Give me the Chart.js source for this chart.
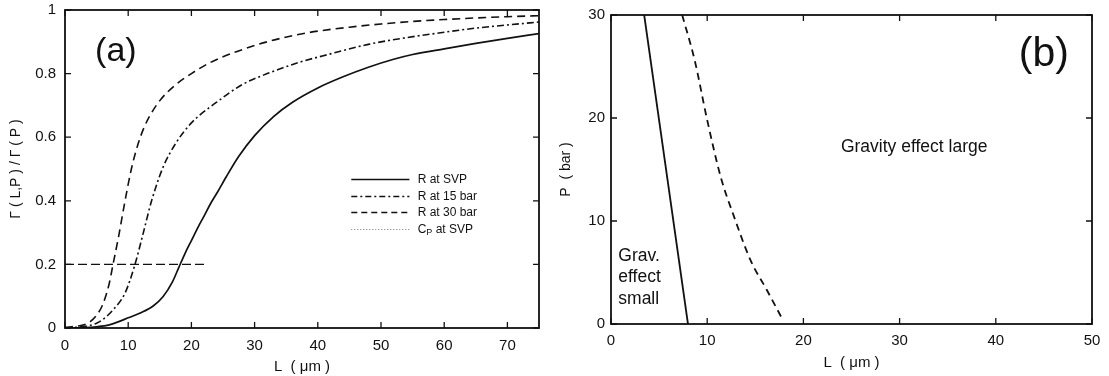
<!DOCTYPE html>
<html>
<head>
<meta charset="utf-8">
<script src="https://cdn.jsdelivr.net/npm/chart.js@4"></script>
<style>
  body { margin: 0; background: #fff; }
  #wrap { position: relative; width: 1109px; height: 376px; }
  .box { position: absolute; top: 0; height: 376px; }
  #boxA { left: 0; width: 550px; }
  #boxB { left: 550px; width: 559px; }
</style>
</head>
<body>
<div id="wrap">
  <div class="box" id="boxA"><canvas id="chartA"></canvas></div>
  <div class="box" id="boxB"><canvas id="chartB"></canvas></div>
</div>
<script>
// panel (a): Gamma(L,P)/Gamma(P) vs L
const lSvp = [0, 3, 5, 7, 8.5, 10, 12, 14, 15.5, 17, 18, 19, 20, 21, 22, 23, 24, 25.5, 27.5, 30, 33, 36, 40, 44, 48, 52, 55, 60, 65, 70, 75];
const rSvp = [0, 0.001, 0.004, 0.01, 0.02, 0.032, 0.048, 0.07, 0.098, 0.145, 0.19, 0.235, 0.275, 0.315, 0.352, 0.39, 0.423, 0.475, 0.54, 0.605, 0.665, 0.71, 0.755, 0.79, 0.82, 0.845, 0.86, 0.878, 0.895, 0.911, 0.926];

const l15 = [0, 3, 5, 6.5, 7.6, 9.5, 11, 12.4, 13.7, 15.5, 17.5, 20, 24, 28, 32, 37, 42, 48, 54, 60, 65, 70, 75];
const r15 = [0, 0.005, 0.015, 0.035, 0.057, 0.11, 0.195, 0.3, 0.4, 0.505, 0.58, 0.645, 0.71, 0.765, 0.8, 0.835, 0.862, 0.892, 0.913, 0.93, 0.943, 0.953, 0.962];

const l30 = [0, 2, 3, 4, 5, 6, 7, 7.6, 8.5, 9.5, 10.5, 11.5, 12.5, 13.5, 15, 17.5, 20, 23, 27, 32, 38, 45, 50, 55, 60, 65, 70, 75];
const r30 = [0.002, 0.006, 0.01, 0.02, 0.04, 0.075, 0.14, 0.2, 0.29, 0.4, 0.5, 0.575, 0.63, 0.67, 0.715, 0.765, 0.8, 0.835, 0.868, 0.9, 0.927, 0.946, 0.956, 0.964, 0.97, 0.975, 0.979, 0.982];

const lRef = [0, 22.5];
const rRef = [0.2, 0.2];

const ticksAx = [0, 10, 20, 30, 40, 50, 60, 70];
const ticksAy = [0, 0.2, 0.4, 0.6, 0.8, 1];

// panel (b): P vs L boundaries
const lSmall = [3.45, 8.0];
const pSmall = [30, 0];
const lLarge = [7.4, 8.7, 10, 11.4, 12.8, 14.5, 16.2, 17.8];
const pLarge = [30, 25.6, 19.8, 14.3, 10.4, 6.2, 3.3, 0.5];

const ticksBx = [0, 10, 20, 30, 40, 50];
const ticksBy = [0, 10, 20, 30];

const FONT = "'Liberation Sans', Arial, sans-serif";
const INK = "#111";

const pts = (xs, ys) => xs.map((x, i) => ({ x, y: ys[i] }));
const setTicks = (vals) => (scale) => { scale.ticks = vals.map((v) => ({ value: v })); };
// no extra room for labels hanging over the ends; layout padding decides
const noOverhang = (s) => { s.paddingTop = 0; s.paddingBottom = 0; s.paddingLeft = 0; s.paddingRight = 0; };

// box round the plot area, with inward ticks on all four sides
const framePlugin = {
  id: "frame",
  afterDatasetsDraw(chart) {
    const { ctx, chartArea: a, scales } = chart;
    const len = 6;
    ctx.save();
    ctx.strokeStyle = INK;
    ctx.lineWidth = 1.3;
    ctx.beginPath();
    scales.x.ticks.forEach((t) => {
      const px = scales.x.getPixelForValue(t.value);
      ctx.moveTo(px, a.bottom); ctx.lineTo(px, a.bottom - len);
      ctx.moveTo(px, a.top); ctx.lineTo(px, a.top + len);
    });
    scales.y.ticks.forEach((t) => {
      const py = scales.y.getPixelForValue(t.value);
      ctx.moveTo(a.left, py); ctx.lineTo(a.left + len, py);
      ctx.moveTo(a.right, py); ctx.lineTo(a.right - len, py);
    });
    ctx.stroke();
    ctx.lineWidth = 1.8;
    ctx.strokeRect(a.left, a.top, a.right - a.left, a.bottom - a.top);
    ctx.restore();
  },
};

// free text and the hand-made legend, placed in data units
const notesPlugin = {
  id: "notes",
  afterDraw(chart, args, opts) {
    const { ctx, scales } = chart;
    const sx = (v) => scales.x.getPixelForValue(v);
    const sy = (v) => scales.y.getPixelForValue(v);
    ctx.save();
    ctx.fillStyle = INK;
    ctx.textBaseline = "middle";
    (opts.texts || []).forEach((t) => {
      ctx.font = `${t.size}px ${FONT}`;
      ctx.textAlign = t.align || "left";
      ctx.fillText(t.text, sx(t.x), sy(t.y));
    });
    (opts.legend || []).forEach((l) => {
      const y = Math.round(sy(l.y)) + 0.5;
      ctx.strokeStyle = l.color || INK;
      ctx.lineWidth = l.width;
      ctx.setLineDash(l.dash);
      ctx.beginPath();
      ctx.moveTo(sx(l.x0), y);
      ctx.lineTo(sx(l.x1), y);
      ctx.stroke();
      ctx.setLineDash([]);
      ctx.font = `12px ${FONT}`;
      ctx.textAlign = "left";
      let x = sx(l.tx);
      if (l.sub) {
        ctx.fillText(l.main, x, y);
        x += ctx.measureText(l.main).width;
        ctx.font = `9px ${FONT}`;
        ctx.fillText(l.sub, x, y + 3);
        x += ctx.measureText(l.sub).width;
        ctx.font = `12px ${FONT}`;
        ctx.fillText(l.rest, x, y);
      } else {
        ctx.fillText(l.main, x, y);
      }
    });
    ctx.restore();
  },
};

const lineSet = (data, dash, width) => ({
  data,
  borderColor: INK,
  borderWidth: width,
  borderDash: dash,
  pointRadius: 0,
  fill: false,
  cubicInterpolationMode: "monotone",
});

const axisX = (min, max, vals, title, pad, h) => ({
  type: "linear",
  min, max,
  afterBuildTicks: setTicks(vals),
  afterFit: (s) => { s.height = h; noOverhang(s); },
  grid: { display: false, drawTicks: false },
  border: { display: false },
  ticks: { color: INK, font: { family: FONT, size: 15 }, padding: pad, maxRotation: 0 },
  title: { display: true, text: title, color: INK, font: { family: FONT, size: 15 }, padding: 0 },
});

const axisY = (min, max, vals, title, pad, w, fmt) => ({
  type: "linear",
  min, max,
  afterBuildTicks: setTicks(vals),
  afterFit: (s) => { s.width = w; noOverhang(s); },
  grid: { display: false, drawTicks: false },
  border: { display: false },
  ticks: { color: INK, font: { family: FONT, size: 15 }, padding: pad, callback: fmt },
  title: { display: true, text: title, color: INK, font: { family: FONT, size: 14 }, padding: 0 },
});

new Chart(document.getElementById("chartA"), {
  type: "line",
  data: {
    datasets: [
      lineSet(pts(lSvp, rSvp), [], 1.7),
      lineSet(pts(l15, r15), [7, 3, 2, 3], 1.6),
      lineSet(pts(l30, r30), [8, 5], 1.6),
      lineSet(pts(lRef, rRef), [9, 4], 1.4),
    ],
  },
  options: {
    responsive: true,
    maintainAspectRatio: false,
    animation: false,
    layout: { padding: { left: 8, top: 10, right: 11, bottom: 0 } },
    scales: {
      x: axisX(0, 75, ticksAx, "L  ( \u03bcm )", 9, 48),
      y: axisY(0, 1, ticksAy, "\u0393 ( L,P ) / \u0393 ( P )", 9, 57,
        (v) => (v === 0 || v === 1 ? String(v) : v.toFixed(1))),
    },
    plugins: {
      legend: { display: false },
      tooltip: { enabled: false },
      notes: {
        texts: [{ text: "(a)", x: 8.05, y: 0.868, size: 34, align: "center" }],
        legend: [
          { y: 0.468, x0: 45.3, x1: 54.5, tx: 55.8, dash: [], width: 1.7, main: "R at SVP" },
          { y: 0.416, x0: 45.3, x1: 54.5, tx: 55.8, dash: [6, 3, 2, 3], width: 1.6, main: "R at 15 bar" },
          { y: 0.366, x0: 45.3, x1: 54.5, tx: 55.8, dash: [6, 4], width: 1.6, main: "R at 30 bar" },
          { y: 0.311, x0: 45.3, x1: 54.5, tx: 55.8, dash: [1, 2], width: 1, color: "#777", main: "C", sub: "P", rest: " at SVP" },
        ],
      },
    },
  },
  plugins: [framePlugin, notesPlugin],
});

new Chart(document.getElementById("chartB"), {
  type: "line",
  data: {
    datasets: [
      lineSet(pts(lSmall, pSmall), [], 1.8),
      lineSet(pts(lLarge, pLarge), [7, 5], 1.8),
    ],
  },
  options: {
    responsive: true,
    maintainAspectRatio: false,
    animation: false,
    layout: { padding: { left: 8, top: 15, right: 17, bottom: 4 } },
    scales: {
      x: axisX(0, 50, ticksBx, "L  ( \u03bcm )", 8, 48),
      y: axisY(0, 30, ticksBy, "P  ( bar )", 6, 53, (v) => String(v)),
    },
    plugins: {
      legend: { display: false },
      tooltip: { enabled: false },
      notes: {
        texts: [
          { text: "(b)", x: 45.0, y: 26.1, size: 41, align: "center" },
          { text: "Gravity effect large", x: 23.9, y: 17.2, size: 17.5 },
          { text: "Grav.", x: 0.76, y: 6.6, size: 17.5 },
          { text: "effect", x: 0.76, y: 4.55, size: 17.5 },
          { text: "small", x: 0.76, y: 2.45, size: 17.5 },
        ],
      },
    },
  },
  plugins: [framePlugin, notesPlugin],
});
</script>
</body>
</html>
